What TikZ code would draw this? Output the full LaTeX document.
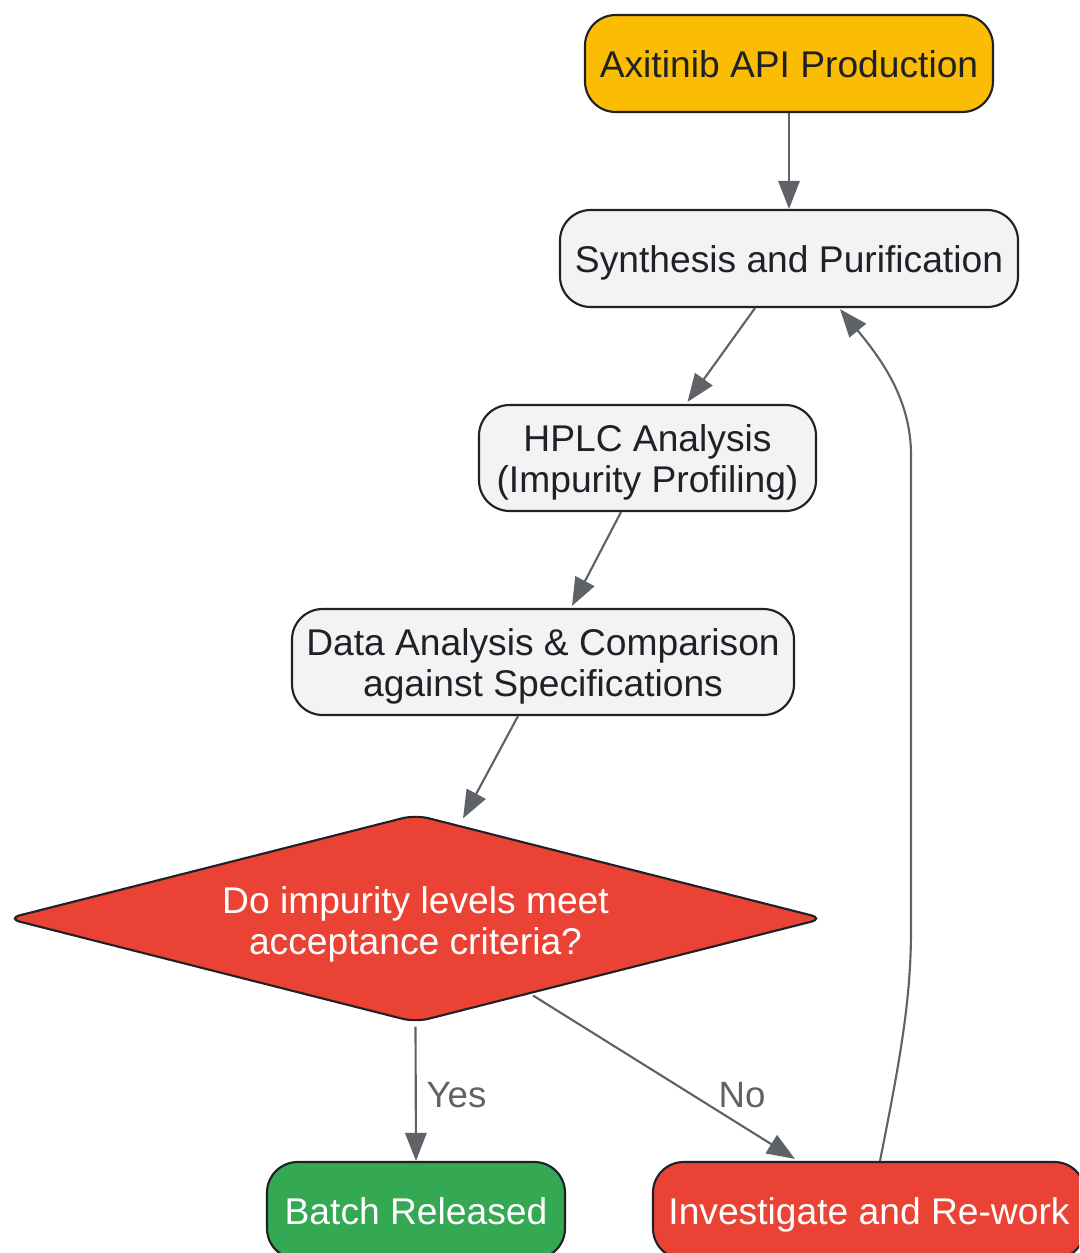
\documentclass[tikz,border=0pt]{standalone}
\usepackage{fontspec}
\setmainfont{Liberation Sans}
\usetikzlibrary{shapes.geometric,arrows.meta,calc}
\definecolor{amber}{HTML}{FBBC04}
\definecolor{gred}{HTML}{EA4335}
\definecolor{ggreen}{HTML}{34A853}
\definecolor{glight}{HTML}{F1F3F4}
\definecolor{gdark}{HTML}{202124}
\definecolor{garrow}{HTML}{5F6368}
\newcommand\boxtext[2][-10.6pt]{\raisebox{#1}[0pt][0pt]{\begin{tabular}[t]{@{}c@{}}#2\end{tabular}}}
\tikzset{
  box/.style={draw=gdark, line width=1.6pt, rounded corners=23pt,
    inner sep=0pt, text=gdark, font=\fontsize{27.9}{30.8}\selectfont},
  lightbox/.style={box, fill=glight},
  decision/.style={diamond, aspect=4, draw=gdark, line width=1.6pt, fill=gred,
    rounded corners=10pt, inner sep=0pt, text=white,
    font=\fontsize{27.9}{30.8}\selectfont},
  arr/.style={draw=garrow, line width=1.6pt, -{Triangle[length=21pt,width=16pt]}},
  lbl/.style={text=garrow, font=\fontsize{27.5}{31}\selectfont},
}
\begin{document}
\begin{tikzpicture}[x=0.75pt,y=-0.75pt]
\useasboundingbox (0,0) rectangle (1079,1253);
\clip (0,0) rectangle (1079,1253);

\node[box, fill=amber, minimum width=306pt, minimum height=72.75pt] (ax) at (789,63.5) {\boxtext{Axitinib API Production}};
\node[lightbox, minimum width=343.5pt, minimum height=72.75pt] (syn) at (789,258.5) {\boxtext{Synthesis and Purification}};
\node[lightbox, minimum width=252.75pt, minimum height=79.5pt] (hplc) at (647.5,458) {\boxtext[4.8pt]{HPLC Analysis\\(Impurity Profiling)}};
\node[lightbox, minimum width=376.5pt, minimum height=79.5pt] (data) at (543,662) {\boxtext[4.8pt]{Data Analysis \& Comparison\\against Specifications}};
\node[decision, minimum width=613pt, minimum height=156pt] (dia) at (415.5,918.5) {\boxtext[3.8pt]{Do impurity levels meet\\acceptance criteria?}};
\node[box, fill=ggreen, text=white, minimum width=223.5pt, minimum height=72.75pt] (bat) at (416,1210.5) {\boxtext{Batch Released}};
\node[box, fill=gred, text=white, minimum width=324pt, minimum height=72.75pt] (inv) at (869,1210.5) {\boxtext{Investigate and Re-work}};

\draw[arr] (ax.south) -- (syn.north);
\draw[arr] ($(syn.south)+(-34,0)$) -- ($(hplc.north)+(40,-2)$);
\draw[arr] ($(hplc.south)+(-26.5,0)$) -- ($(data.north)+(29,-2)$);
\draw[arr] ($(data.south)+(-25,0)$) -- ($(dia.north)+(47.5,5)$);
\draw[arr] ($(dia.south)+(0,3)$) -- node[lbl, right, xshift=4pt, yshift=-1pt] {Yes} (bat.north);
\draw[arr] ($(dia.center)+(117.5,77)$) -- ($(inv.north)+(-74,-2)$);
\node[lbl] (nolbl) at (742,1095) {No};
\draw[arr] ($(inv.north)+(11,0)$) .. controls (900,1060) and (911,1000) .. (911,930)
  -- (911,455) .. controls (911,400) and (882,360) .. ($(syn.south)+(51,1)$);
\end{tikzpicture}
\end{document}
